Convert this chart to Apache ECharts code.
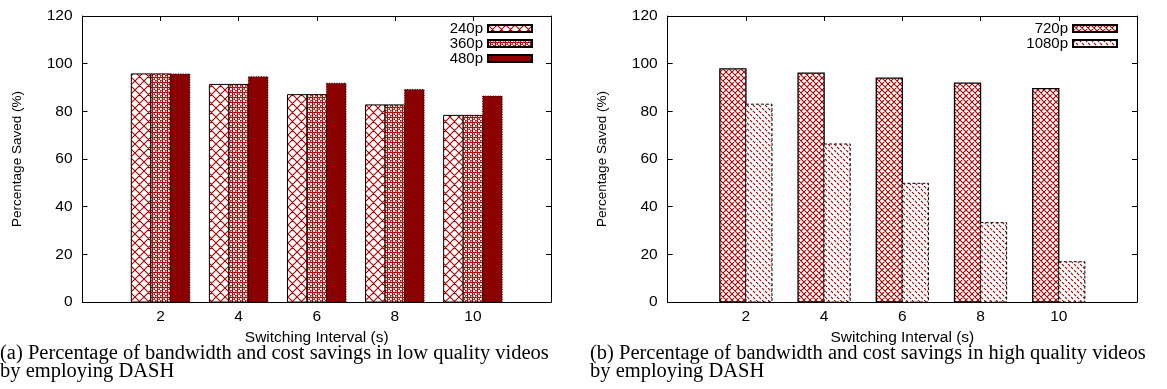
<!DOCTYPE html>
<html>
<head>
<meta charset="utf-8">
<script src="https://cdn.jsdelivr.net/npm/echarts@6/dist/echarts.min.js"></script>
<style>html,body{margin:0;padding:0;background:#fff;}#c{width:1167px;height:389px;}</style>
</head>
<body>
<div id="c"></div>
<script>
// ---- data ----
const categories = ['2', '4', '6', '8', '10'];
const s240 = [95.7, 91.3, 87.0, 82.7, 78.3];
const s360 = [95.7, 91.3, 87.0, 82.7, 78.3];
const s480 = [95.7, 94.5, 91.8, 89.2, 86.4];
const s720 = [97.8, 96.0, 93.9, 91.8, 89.5];
const s1080 = [83.0, 66.3, 49.8, 33.3, 16.9];
const yMin = 0, yMax = 120, yStep = 20;
const xAxisName = 'Switching Interval (s)';
const yAxisName = 'Percentage Saved (%)';
const captionA = '(a) Percentage of bandwidth and cost savings in low quality videos\nby employing DASH';
const captionB = '(b) Percentage of bandwidth and cost savings in high quality videos\nby employing DASH';

// ---- patterns ----
const RED = '#a80000';
function crossHatch(p, color, lw) {
  const c = document.createElement('canvas'); c.width = c.height = p;
  const g = c.getContext('2d');
  g.fillStyle = '#fff'; g.fillRect(0, 0, p, p);
  g.strokeStyle = color; g.lineWidth = lw;
  g.beginPath();
  for (let k = -1; k <= 1; k++) {
    g.moveTo(k * p, 0); g.lineTo(k * p + p, p);
    g.moveTo(k * p + p, 0); g.lineTo(k * p, p);
  }
  g.stroke();
  return { image: c, repeat: 'repeat' };
}
function dotPattern(color) {
  const p = 5;
  const c = document.createElement('canvas'); c.width = c.height = p;
  const g = c.getContext('2d');
  g.fillStyle = '#fff'; g.fillRect(0, 0, p, p);
  g.strokeStyle = color; g.lineWidth = 1.2;
  [[1.25, 1.25], [3.75, 3.75]].forEach(([x, y]) => { g.beginPath(); g.arc(x, y, 1.3, 0, Math.PI * 2); g.stroke(); });
  return { image: c, repeat: 'repeat' };
}
function diagLines(p, color) {
  const c = document.createElement('canvas'); c.width = c.height = p;
  const g = c.getContext('2d');
  g.fillStyle = '#fff'; g.fillRect(0, 0, p, p);
  g.strokeStyle = color; g.lineWidth = 1.1; g.setLineDash([3, 1.2]);
  g.beginPath();
  for (let k = -1; k <= 1; k++) { g.moveTo(k * p, 0); g.lineTo(k * p + p, p); }
  g.stroke();
  return { image: c, repeat: 'repeat' };
}
const pat240 = crossHatch(9, RED, 1.1);
const pat360 = dotPattern(RED);
const pat720 = crossHatch(6, RED, 1.1);
const pat1080 = diagLines(6, '#a00000');

function toData(arr) { return arr.map((v, i) => [i, v]); }

function barSeries(name, arr, grid, off, w, fill, dash, lw) {
  return {
    type: 'custom', name: name, xAxisIndex: grid * 2, yAxisIndex: grid * 2,
    data: toData(arr),
    itemStyle: { color: fill, borderColor: '#000', borderWidth: 1, borderType: dash || 'solid' },
    renderItem: function (params, api) {
      const x = api.value(0), y = api.value(1);
      const a = api.coord([x + off - w / 2, y]);
      const b = api.coord([x + off + w / 2, 0]);
      return {
        type: 'rect',
        shape: { x: a[0], y: a[1], width: b[0] - a[0], height: b[1] - a[1] },
        style: { fill: fill, stroke: '#000', lineWidth: lw || 1, lineDash: dash === 'dotted' ? [1, 1.5] : dash === 'dashed' ? [3, 2] : null }
      };
    }
  };
}

const FONT = 'Liberation Sans';
function xAxes(grid) {
  return [
    { gridIndex: grid, type: 'value', position: 'bottom', min: -1, max: 5, interval: 1,
      axisLine: { onZero: false, lineStyle: { color: '#000', width: 1 } }, axisTick: { show: false }, splitLine: { show: false },
      axisLabel: { color: '#000', fontSize: 15.5, fontFamily: FONT, margin: 7, formatter: v => (categories[v] !== undefined ? categories[v] : '') },
      name: xAxisName, nameLocation: 'middle', nameGap: 26, nameTextStyle: { color: '#000', fontSize: 15.5, fontFamily: FONT } },
    { gridIndex: grid, type: 'value', position: 'top', min: -1, max: 5, interval: 1,
      axisLine: { onZero: false, lineStyle: { color: '#000', width: 1 } }, axisTick: { show: true, inside: true, length: 5, lineStyle: { color: '#000' } },
      splitLine: { show: false }, axisLabel: { show: false } }
  ];
}
function yAxes(grid) {
  return [
    { gridIndex: grid, type: 'value', position: 'left', min: yMin, max: yMax, interval: yStep,
      axisLine: { show: true, onZero: false, lineStyle: { color: '#000', width: 1 } }, axisTick: { show: true, inside: true, length: 5, lineStyle: { color: '#000' } },
      splitLine: { show: false },
      axisLabel: { color: '#000', fontSize: 15.5, fontFamily: FONT, margin: 10 },
      name: yAxisName, nameLocation: 'middle', nameGap: 58, nameRotate: 90, nameTextStyle: { color: '#000', fontSize: 13.5, fontFamily: FONT } },
    { gridIndex: grid, type: 'value', position: 'right', min: yMin, max: yMax, interval: yStep,
      axisLine: { show: true, onZero: false, lineStyle: { color: '#000', width: 1 } }, axisTick: { show: true, inside: true, length: 5, lineStyle: { color: '#000' } },
      splitLine: { show: false }, axisLabel: { show: false } }
  ];
}

const legendText = { fontSize: 15, fontFamily: FONT, color: '#000', lineHeight: 14 };
const capStyle = { fontFamily: 'Liberation Serif', fontSize: 20.5, fontWeight: 'normal', color: '#000', lineHeight: 18 };
const option = {
  animation: false,
  backgroundColor: '#fff',
  title: [
    { text: captionA, left: 0, top: 345, padding: 0, textStyle: capStyle },
    { text: captionB, left: 590, top: 345, padding: 0, textStyle: capStyle }
  ],
  grid: [
    { left: 82.5, right: 616, top: 16, bottom: 87 },
    { left: 667.7, right: 30, top: 16, bottom: 87 }
  ],
  xAxis: [...xAxes(0), ...xAxes(1)],
  yAxis: [...yAxes(0), ...yAxes(1)],
  legend: [
    { data: ['240p', '360p', '480p'], orient: 'vertical', align: 'right', right: 629, top: 16, itemWidth: 44, itemHeight: 7, itemGap: 0, icon: 'rect', selectedMode: false, textStyle: legendText },
    { data: ['720p', '1080p'], orient: 'vertical', align: 'right', right: 44, top: 16, itemWidth: 44, itemHeight: 7, itemGap: 0, icon: 'rect', selectedMode: false, textStyle: legendText }
  ],
  series: [
    barSeries('240p', s240, 0, -0.25, 0.25, pat240, 'solid'),
    barSeries('360p', s360, 0, 0, 0.25, pat360, 'solid'),
    barSeries('480p', s480, 0, 0.25, 0.25, '#8b0000', 'dotted'),
    barSeries('720p', s720, 1, -1 / 6, 1 / 3, pat720, 'solid', 1.3),
    barSeries('1080p', s1080, 1, 1 / 6, 1 / 3, pat1080, 'dashed')
  ]
};
const chart = echarts.init(document.getElementById('c'), null, { renderer: 'canvas' });
chart.setOption(option);
</script>
</body>
</html>
